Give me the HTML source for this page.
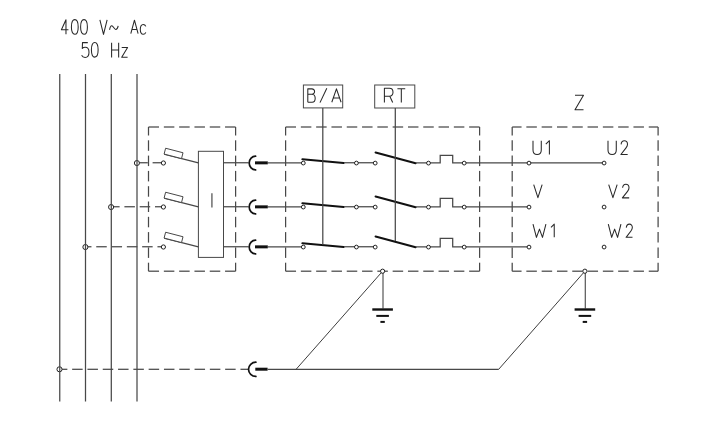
<!DOCTYPE html>
<html><head><meta charset="utf-8"><title>Schema</title>
<style>
html,body{margin:0;padding:0;background:#fff;}
body{width:720px;height:428px;overflow:hidden;font-family:"Liberation Sans",sans-serif;}
svg{position:absolute;left:0;top:0;display:block;}
</style></head><body>
<svg width="720" height="428" viewBox="0 0 720 428">
<rect width="720" height="428" fill="#fff"/>
<path d="M5.2,14.4V0L0,9.8H8" transform="translate(61.4,19.8) scale(0.88,1.01)" fill="none" stroke="#282828" stroke-width="1.05" vector-effect="non-scaling-stroke" stroke-linejoin="round"/>
<path d="M0,7.2C0,2 1.7,0 4,0C6.3,0 8,2 8,7.2C8,12.4 6.3,14.4 4,14.4C1.7,14.4 0,12.4 0,7.2Z" transform="translate(71.4,19.6) scale(0.85,1.02)" fill="none" stroke="#282828" stroke-width="1.05" vector-effect="non-scaling-stroke" stroke-linejoin="round"/>
<path d="M0,7.2C0,2 1.7,0 4,0C6.3,0 8,2 8,7.2C8,12.4 6.3,14.4 4,14.4C1.7,14.4 0,12.4 0,7.2Z" transform="translate(80.6,19.6) scale(0.85,1.02)" fill="none" stroke="#282828" stroke-width="1.05" vector-effect="non-scaling-stroke" stroke-linejoin="round"/>
<path d="M0,0L4.1,14.4L8.2,0" transform="translate(99.9,19.8) scale(0.88,1.01)" fill="none" stroke="#282828" stroke-width="1.05" vector-effect="non-scaling-stroke" stroke-linejoin="round"/>
<path d="M109.6,29.8C110,27.2 110.7,25.7 111.8,25.7C113.2,25.7 114.2,29.4 115.7,29.4C117,29.4 117.8,27.8 118.2,25.8" fill="none" stroke="#282828" stroke-width="1.05"/>
<path d="M0,14.4L4.15,0L8.3,14.4M1.3,9.9H7.0" transform="translate(130.8,20.2) scale(0.88,0.94)" fill="none" stroke="#282828" stroke-width="1.05" vector-effect="non-scaling-stroke" stroke-linejoin="round"/>
<path d="M7,2.9C6.3,0.9 5.1,0 3.7,0C1.3,0 0,3.2 0,7.2C0,11.2 1.3,14.4 3.7,14.4C5.1,14.4 6.3,13.5 7,11.5" transform="translate(140.3,24.4) scale(0.79,0.69)" fill="none" stroke="#282828" stroke-width="1.05" vector-effect="non-scaling-stroke" stroke-linejoin="round"/>
<path d="M87.8,42.6H82.5L82.3,48.4C83,47.6 84,47.2 85.2,47.2C87.6,47.2 89,49.4 89,52.2C89,55.3 87.4,57.4 85.1,57.4C83.5,57.4 82.3,56.6 81.6,55.2" fill="none" stroke="#282828" stroke-width="1.05" stroke-linejoin="round"/>
<path d="M0,7.2C0,2 1.7,0 4,0C6.3,0 8,2 8,7.2C8,12.4 6.3,14.4 4,14.4C1.7,14.4 0,12.4 0,7.2Z" transform="translate(91.4,42.6) scale(0.84,1.01)" fill="none" stroke="#282828" stroke-width="1.05" vector-effect="non-scaling-stroke" stroke-linejoin="round"/>
<path d="M0,0V14.4M8.3,0V14.4M0,7H8.3" transform="translate(111.6,42.8) scale(0.85,1.02)" fill="none" stroke="#282828" stroke-width="1.05" vector-effect="non-scaling-stroke" stroke-linejoin="round"/>
<path d="M0,4.4H6.4L0,14.4H6.4" transform="translate(121.7,43.19) scale(0.92,0.98)" fill="none" stroke="#282828" stroke-width="1.05" vector-effect="non-scaling-stroke" stroke-linejoin="round"/>
<line x1="148.5" y1="127" x2="159.05" y2="127" stroke="#484848" stroke-width="1.25" stroke-linecap="butt"/>
<line x1="163.85" y1="127" x2="174.35" y2="127" stroke="#484848" stroke-width="1.25" stroke-linecap="butt"/>
<line x1="179.15" y1="127" x2="189.65" y2="127" stroke="#484848" stroke-width="1.25" stroke-linecap="butt"/>
<line x1="194.45" y1="127" x2="204.95" y2="127" stroke="#484848" stroke-width="1.25" stroke-linecap="butt"/>
<line x1="209.75" y1="127" x2="220.25" y2="127" stroke="#484848" stroke-width="1.25" stroke-linecap="butt"/>
<line x1="225.05" y1="127" x2="235.6" y2="127" stroke="#484848" stroke-width="1.25" stroke-linecap="butt"/>
<line x1="148.5" y1="271.2" x2="159.05" y2="271.2" stroke="#484848" stroke-width="1.25" stroke-linecap="butt"/>
<line x1="163.85" y1="271.2" x2="174.35" y2="271.2" stroke="#484848" stroke-width="1.25" stroke-linecap="butt"/>
<line x1="179.15" y1="271.2" x2="189.65" y2="271.2" stroke="#484848" stroke-width="1.25" stroke-linecap="butt"/>
<line x1="194.45" y1="271.2" x2="204.95" y2="271.2" stroke="#484848" stroke-width="1.25" stroke-linecap="butt"/>
<line x1="209.75" y1="271.2" x2="220.25" y2="271.2" stroke="#484848" stroke-width="1.25" stroke-linecap="butt"/>
<line x1="225.05" y1="271.2" x2="235.6" y2="271.2" stroke="#484848" stroke-width="1.25" stroke-linecap="butt"/>
<line x1="148.5" y1="127" x2="148.5" y2="135.5" stroke="#484848" stroke-width="1.25" stroke-linecap="butt"/>
<line x1="148.5" y1="140.3" x2="148.5" y2="150.8" stroke="#484848" stroke-width="1.25" stroke-linecap="butt"/>
<line x1="148.5" y1="155.6" x2="148.5" y2="166.1" stroke="#484848" stroke-width="1.25" stroke-linecap="butt"/>
<line x1="148.5" y1="170.9" x2="148.5" y2="181.4" stroke="#484848" stroke-width="1.25" stroke-linecap="butt"/>
<line x1="148.5" y1="186.2" x2="148.5" y2="196.7" stroke="#484848" stroke-width="1.25" stroke-linecap="butt"/>
<line x1="148.5" y1="201.5" x2="148.5" y2="212" stroke="#484848" stroke-width="1.25" stroke-linecap="butt"/>
<line x1="148.5" y1="216.8" x2="148.5" y2="227.3" stroke="#484848" stroke-width="1.25" stroke-linecap="butt"/>
<line x1="148.5" y1="232.1" x2="148.5" y2="242.6" stroke="#484848" stroke-width="1.25" stroke-linecap="butt"/>
<line x1="148.5" y1="247.4" x2="148.5" y2="257.9" stroke="#484848" stroke-width="1.25" stroke-linecap="butt"/>
<line x1="148.5" y1="262.7" x2="148.5" y2="271.2" stroke="#484848" stroke-width="1.25" stroke-linecap="butt"/>
<line x1="235.6" y1="127" x2="235.6" y2="135.5" stroke="#484848" stroke-width="1.25" stroke-linecap="butt"/>
<line x1="235.6" y1="140.3" x2="235.6" y2="150.8" stroke="#484848" stroke-width="1.25" stroke-linecap="butt"/>
<line x1="235.6" y1="155.6" x2="235.6" y2="166.1" stroke="#484848" stroke-width="1.25" stroke-linecap="butt"/>
<line x1="235.6" y1="170.9" x2="235.6" y2="181.4" stroke="#484848" stroke-width="1.25" stroke-linecap="butt"/>
<line x1="235.6" y1="186.2" x2="235.6" y2="196.7" stroke="#484848" stroke-width="1.25" stroke-linecap="butt"/>
<line x1="235.6" y1="201.5" x2="235.6" y2="212" stroke="#484848" stroke-width="1.25" stroke-linecap="butt"/>
<line x1="235.6" y1="216.8" x2="235.6" y2="227.3" stroke="#484848" stroke-width="1.25" stroke-linecap="butt"/>
<line x1="235.6" y1="232.1" x2="235.6" y2="242.6" stroke="#484848" stroke-width="1.25" stroke-linecap="butt"/>
<line x1="235.6" y1="247.4" x2="235.6" y2="257.9" stroke="#484848" stroke-width="1.25" stroke-linecap="butt"/>
<line x1="235.6" y1="262.7" x2="235.6" y2="271.2" stroke="#484848" stroke-width="1.25" stroke-linecap="butt"/>
<line x1="285.6" y1="127" x2="296.05" y2="127" stroke="#484848" stroke-width="1.25" stroke-linecap="butt"/>
<line x1="300.85" y1="127" x2="311.35" y2="127" stroke="#484848" stroke-width="1.25" stroke-linecap="butt"/>
<line x1="316.15" y1="127" x2="326.65" y2="127" stroke="#484848" stroke-width="1.25" stroke-linecap="butt"/>
<line x1="331.45" y1="127" x2="341.95" y2="127" stroke="#484848" stroke-width="1.25" stroke-linecap="butt"/>
<line x1="346.75" y1="127" x2="357.25" y2="127" stroke="#484848" stroke-width="1.25" stroke-linecap="butt"/>
<line x1="362.05" y1="127" x2="372.55" y2="127" stroke="#484848" stroke-width="1.25" stroke-linecap="butt"/>
<line x1="377.35" y1="127" x2="387.85" y2="127" stroke="#484848" stroke-width="1.25" stroke-linecap="butt"/>
<line x1="392.65" y1="127" x2="403.15" y2="127" stroke="#484848" stroke-width="1.25" stroke-linecap="butt"/>
<line x1="407.95" y1="127" x2="418.45" y2="127" stroke="#484848" stroke-width="1.25" stroke-linecap="butt"/>
<line x1="423.25" y1="127" x2="433.75" y2="127" stroke="#484848" stroke-width="1.25" stroke-linecap="butt"/>
<line x1="438.55" y1="127" x2="449.05" y2="127" stroke="#484848" stroke-width="1.25" stroke-linecap="butt"/>
<line x1="453.85" y1="127" x2="464.35" y2="127" stroke="#484848" stroke-width="1.25" stroke-linecap="butt"/>
<line x1="469.15" y1="127" x2="479.6" y2="127" stroke="#484848" stroke-width="1.25" stroke-linecap="butt"/>
<line x1="285.6" y1="271.2" x2="296.05" y2="271.2" stroke="#484848" stroke-width="1.25" stroke-linecap="butt"/>
<line x1="300.85" y1="271.2" x2="311.35" y2="271.2" stroke="#484848" stroke-width="1.25" stroke-linecap="butt"/>
<line x1="316.15" y1="271.2" x2="326.65" y2="271.2" stroke="#484848" stroke-width="1.25" stroke-linecap="butt"/>
<line x1="331.45" y1="271.2" x2="341.95" y2="271.2" stroke="#484848" stroke-width="1.25" stroke-linecap="butt"/>
<line x1="346.75" y1="271.2" x2="357.25" y2="271.2" stroke="#484848" stroke-width="1.25" stroke-linecap="butt"/>
<line x1="362.05" y1="271.2" x2="372.55" y2="271.2" stroke="#484848" stroke-width="1.25" stroke-linecap="butt"/>
<line x1="377.35" y1="271.2" x2="387.85" y2="271.2" stroke="#484848" stroke-width="1.25" stroke-linecap="butt"/>
<line x1="392.65" y1="271.2" x2="403.15" y2="271.2" stroke="#484848" stroke-width="1.25" stroke-linecap="butt"/>
<line x1="407.95" y1="271.2" x2="418.45" y2="271.2" stroke="#484848" stroke-width="1.25" stroke-linecap="butt"/>
<line x1="423.25" y1="271.2" x2="433.75" y2="271.2" stroke="#484848" stroke-width="1.25" stroke-linecap="butt"/>
<line x1="438.55" y1="271.2" x2="449.05" y2="271.2" stroke="#484848" stroke-width="1.25" stroke-linecap="butt"/>
<line x1="453.85" y1="271.2" x2="464.35" y2="271.2" stroke="#484848" stroke-width="1.25" stroke-linecap="butt"/>
<line x1="469.15" y1="271.2" x2="479.6" y2="271.2" stroke="#484848" stroke-width="1.25" stroke-linecap="butt"/>
<line x1="285.6" y1="127" x2="285.6" y2="135.5" stroke="#484848" stroke-width="1.25" stroke-linecap="butt"/>
<line x1="285.6" y1="140.3" x2="285.6" y2="150.8" stroke="#484848" stroke-width="1.25" stroke-linecap="butt"/>
<line x1="285.6" y1="155.6" x2="285.6" y2="166.1" stroke="#484848" stroke-width="1.25" stroke-linecap="butt"/>
<line x1="285.6" y1="170.9" x2="285.6" y2="181.4" stroke="#484848" stroke-width="1.25" stroke-linecap="butt"/>
<line x1="285.6" y1="186.2" x2="285.6" y2="196.7" stroke="#484848" stroke-width="1.25" stroke-linecap="butt"/>
<line x1="285.6" y1="201.5" x2="285.6" y2="212" stroke="#484848" stroke-width="1.25" stroke-linecap="butt"/>
<line x1="285.6" y1="216.8" x2="285.6" y2="227.3" stroke="#484848" stroke-width="1.25" stroke-linecap="butt"/>
<line x1="285.6" y1="232.1" x2="285.6" y2="242.6" stroke="#484848" stroke-width="1.25" stroke-linecap="butt"/>
<line x1="285.6" y1="247.4" x2="285.6" y2="257.9" stroke="#484848" stroke-width="1.25" stroke-linecap="butt"/>
<line x1="285.6" y1="262.7" x2="285.6" y2="271.2" stroke="#484848" stroke-width="1.25" stroke-linecap="butt"/>
<line x1="479.6" y1="127" x2="479.6" y2="135.5" stroke="#484848" stroke-width="1.25" stroke-linecap="butt"/>
<line x1="479.6" y1="140.3" x2="479.6" y2="150.8" stroke="#484848" stroke-width="1.25" stroke-linecap="butt"/>
<line x1="479.6" y1="155.6" x2="479.6" y2="166.1" stroke="#484848" stroke-width="1.25" stroke-linecap="butt"/>
<line x1="479.6" y1="170.9" x2="479.6" y2="181.4" stroke="#484848" stroke-width="1.25" stroke-linecap="butt"/>
<line x1="479.6" y1="186.2" x2="479.6" y2="196.7" stroke="#484848" stroke-width="1.25" stroke-linecap="butt"/>
<line x1="479.6" y1="201.5" x2="479.6" y2="212" stroke="#484848" stroke-width="1.25" stroke-linecap="butt"/>
<line x1="479.6" y1="216.8" x2="479.6" y2="227.3" stroke="#484848" stroke-width="1.25" stroke-linecap="butt"/>
<line x1="479.6" y1="232.1" x2="479.6" y2="242.6" stroke="#484848" stroke-width="1.25" stroke-linecap="butt"/>
<line x1="479.6" y1="247.4" x2="479.6" y2="257.9" stroke="#484848" stroke-width="1.25" stroke-linecap="butt"/>
<line x1="479.6" y1="262.7" x2="479.6" y2="271.2" stroke="#484848" stroke-width="1.25" stroke-linecap="butt"/>
<line x1="512.2" y1="127" x2="521.55" y2="127" stroke="#484848" stroke-width="1.25" stroke-linecap="butt"/>
<line x1="526.35" y1="127" x2="536.85" y2="127" stroke="#484848" stroke-width="1.25" stroke-linecap="butt"/>
<line x1="541.65" y1="127" x2="552.15" y2="127" stroke="#484848" stroke-width="1.25" stroke-linecap="butt"/>
<line x1="556.95" y1="127" x2="567.45" y2="127" stroke="#484848" stroke-width="1.25" stroke-linecap="butt"/>
<line x1="572.25" y1="127" x2="582.75" y2="127" stroke="#484848" stroke-width="1.25" stroke-linecap="butt"/>
<line x1="587.55" y1="127" x2="598.05" y2="127" stroke="#484848" stroke-width="1.25" stroke-linecap="butt"/>
<line x1="602.85" y1="127" x2="613.35" y2="127" stroke="#484848" stroke-width="1.25" stroke-linecap="butt"/>
<line x1="618.15" y1="127" x2="628.65" y2="127" stroke="#484848" stroke-width="1.25" stroke-linecap="butt"/>
<line x1="633.45" y1="127" x2="643.95" y2="127" stroke="#484848" stroke-width="1.25" stroke-linecap="butt"/>
<line x1="648.75" y1="127" x2="658.1" y2="127" stroke="#484848" stroke-width="1.25" stroke-linecap="butt"/>
<line x1="512.2" y1="271.2" x2="521.55" y2="271.2" stroke="#484848" stroke-width="1.25" stroke-linecap="butt"/>
<line x1="526.35" y1="271.2" x2="536.85" y2="271.2" stroke="#484848" stroke-width="1.25" stroke-linecap="butt"/>
<line x1="541.65" y1="271.2" x2="552.15" y2="271.2" stroke="#484848" stroke-width="1.25" stroke-linecap="butt"/>
<line x1="556.95" y1="271.2" x2="567.45" y2="271.2" stroke="#484848" stroke-width="1.25" stroke-linecap="butt"/>
<line x1="572.25" y1="271.2" x2="582.75" y2="271.2" stroke="#484848" stroke-width="1.25" stroke-linecap="butt"/>
<line x1="587.55" y1="271.2" x2="598.05" y2="271.2" stroke="#484848" stroke-width="1.25" stroke-linecap="butt"/>
<line x1="602.85" y1="271.2" x2="613.35" y2="271.2" stroke="#484848" stroke-width="1.25" stroke-linecap="butt"/>
<line x1="618.15" y1="271.2" x2="628.65" y2="271.2" stroke="#484848" stroke-width="1.25" stroke-linecap="butt"/>
<line x1="633.45" y1="271.2" x2="643.95" y2="271.2" stroke="#484848" stroke-width="1.25" stroke-linecap="butt"/>
<line x1="648.75" y1="271.2" x2="658.1" y2="271.2" stroke="#484848" stroke-width="1.25" stroke-linecap="butt"/>
<line x1="512.2" y1="127" x2="512.2" y2="135.5" stroke="#484848" stroke-width="1.25" stroke-linecap="butt"/>
<line x1="512.2" y1="140.3" x2="512.2" y2="150.8" stroke="#484848" stroke-width="1.25" stroke-linecap="butt"/>
<line x1="512.2" y1="155.6" x2="512.2" y2="166.1" stroke="#484848" stroke-width="1.25" stroke-linecap="butt"/>
<line x1="512.2" y1="170.9" x2="512.2" y2="181.4" stroke="#484848" stroke-width="1.25" stroke-linecap="butt"/>
<line x1="512.2" y1="186.2" x2="512.2" y2="196.7" stroke="#484848" stroke-width="1.25" stroke-linecap="butt"/>
<line x1="512.2" y1="201.5" x2="512.2" y2="212" stroke="#484848" stroke-width="1.25" stroke-linecap="butt"/>
<line x1="512.2" y1="216.8" x2="512.2" y2="227.3" stroke="#484848" stroke-width="1.25" stroke-linecap="butt"/>
<line x1="512.2" y1="232.1" x2="512.2" y2="242.6" stroke="#484848" stroke-width="1.25" stroke-linecap="butt"/>
<line x1="512.2" y1="247.4" x2="512.2" y2="257.9" stroke="#484848" stroke-width="1.25" stroke-linecap="butt"/>
<line x1="512.2" y1="262.7" x2="512.2" y2="271.2" stroke="#484848" stroke-width="1.25" stroke-linecap="butt"/>
<line x1="658.1" y1="127" x2="658.1" y2="135.5" stroke="#484848" stroke-width="1.25" stroke-linecap="butt"/>
<line x1="658.1" y1="140.3" x2="658.1" y2="150.8" stroke="#484848" stroke-width="1.25" stroke-linecap="butt"/>
<line x1="658.1" y1="155.6" x2="658.1" y2="166.1" stroke="#484848" stroke-width="1.25" stroke-linecap="butt"/>
<line x1="658.1" y1="170.9" x2="658.1" y2="181.4" stroke="#484848" stroke-width="1.25" stroke-linecap="butt"/>
<line x1="658.1" y1="186.2" x2="658.1" y2="196.7" stroke="#484848" stroke-width="1.25" stroke-linecap="butt"/>
<line x1="658.1" y1="201.5" x2="658.1" y2="212" stroke="#484848" stroke-width="1.25" stroke-linecap="butt"/>
<line x1="658.1" y1="216.8" x2="658.1" y2="227.3" stroke="#484848" stroke-width="1.25" stroke-linecap="butt"/>
<line x1="658.1" y1="232.1" x2="658.1" y2="242.6" stroke="#484848" stroke-width="1.25" stroke-linecap="butt"/>
<line x1="658.1" y1="247.4" x2="658.1" y2="257.9" stroke="#484848" stroke-width="1.25" stroke-linecap="butt"/>
<line x1="658.1" y1="262.7" x2="658.1" y2="271.2" stroke="#484848" stroke-width="1.25" stroke-linecap="butt"/>
<rect x="198.4" y="151.3" width="25.1" height="106.1" fill="none" stroke="#484848" stroke-width="1"/>
<line x1="211.9" y1="193.3" x2="211.9" y2="207.6" stroke="#777" stroke-width="1.6" stroke-linecap="butt"/>
<line x1="137" y1="162.75" x2="147.8" y2="162.75" stroke="#484848" stroke-width="1.25" stroke-linecap="butt"/>
<line x1="152.6" y1="162.75" x2="163.4" y2="162.75" stroke="#484848" stroke-width="1.25" stroke-linecap="butt"/>
<circle cx="136.9" cy="163.05" r="2.55" fill="#fff" stroke="#222" stroke-width="1"/>
<circle cx="163.4" cy="163" r="2.1" fill="#fff" stroke="#222" stroke-width="1"/>
<line x1="198.4" y1="162.95" x2="164.1" y2="154.05" stroke="#484848" stroke-width="1.25" stroke-linecap="butt"/>
<polygon points="164.1,154.05 181.52,158.57 183.03,152.76 165.61,148.24" fill="#fff" stroke="#484848" stroke-width="1"/>
<line x1="223.5" y1="162.75" x2="248.6" y2="162.75" stroke="#484848" stroke-width="1.25" stroke-linecap="butt"/>
<path d="M255.6,156.15A6.4,6.9 0 0 0 255.6,169.95" fill="none" stroke="#111" stroke-width="1.7" stroke-linecap="round"/>
<line x1="255" y1="162.85" x2="267.8" y2="162.85" stroke="#111" stroke-width="3" stroke-linecap="butt"/>
<line x1="267.8" y1="162.75" x2="303.3" y2="162.75" stroke="#484848" stroke-width="1.25" stroke-linecap="butt"/>
<line x1="302.4" y1="159.25" x2="343.6" y2="162.95" stroke="#111" stroke-width="2.1" stroke-linecap="round"/>
<line x1="344" y1="162.75" x2="375.2" y2="162.75" stroke="#484848" stroke-width="1.25" stroke-linecap="butt"/>
<circle cx="303.3" cy="163.05" r="1.9" fill="#fff" stroke="#222" stroke-width="1"/>
<circle cx="356.4" cy="163.05" r="1.9" fill="#fff" stroke="#222" stroke-width="1"/>
<circle cx="375.2" cy="163.1" r="1.9" fill="#fff" stroke="#222" stroke-width="1"/>
<line x1="375.6" y1="152.45" x2="415.6" y2="163.15" stroke="#111" stroke-width="2.1" stroke-linecap="round"/>
<path d="M415.8,162.75H440.2V155.4H452.7V162.75H604.2" fill="none" stroke="#484848" stroke-width="1.25" />
<circle cx="428.5" cy="163.1" r="1.9" fill="#fff" stroke="#222" stroke-width="1"/>
<circle cx="464.2" cy="163.1" r="1.9" fill="#fff" stroke="#222" stroke-width="1"/>
<circle cx="529" cy="163.1" r="1.9" fill="#fff" stroke="#222" stroke-width="1"/>
<circle cx="604.1" cy="163.05" r="1.9" fill="#fff" stroke="#222" stroke-width="1"/>
<line x1="111.2" y1="206.75" x2="119.6" y2="206.75" stroke="#484848" stroke-width="1.25" stroke-linecap="butt"/>
<line x1="124.4" y1="206.75" x2="134.9" y2="206.75" stroke="#484848" stroke-width="1.25" stroke-linecap="butt"/>
<line x1="139.7" y1="206.75" x2="150.2" y2="206.75" stroke="#484848" stroke-width="1.25" stroke-linecap="butt"/>
<line x1="155" y1="206.75" x2="163.4" y2="206.75" stroke="#484848" stroke-width="1.25" stroke-linecap="butt"/>
<circle cx="111.1" cy="207.05" r="2.55" fill="#fff" stroke="#222" stroke-width="1"/>
<circle cx="163.4" cy="207" r="2.1" fill="#fff" stroke="#222" stroke-width="1"/>
<line x1="198.4" y1="206.95" x2="164.1" y2="198.05" stroke="#484848" stroke-width="1.25" stroke-linecap="butt"/>
<polygon points="164.1,198.05 181.52,202.57 183.03,196.76 165.61,192.24" fill="#fff" stroke="#484848" stroke-width="1"/>
<line x1="223.5" y1="206.75" x2="248.6" y2="206.75" stroke="#484848" stroke-width="1.25" stroke-linecap="butt"/>
<path d="M255.6,200.15A6.4,6.9 0 0 0 255.6,213.95" fill="none" stroke="#111" stroke-width="1.7" stroke-linecap="round"/>
<line x1="255" y1="206.85" x2="267.8" y2="206.85" stroke="#111" stroke-width="3" stroke-linecap="butt"/>
<line x1="267.8" y1="206.75" x2="303.3" y2="206.75" stroke="#484848" stroke-width="1.25" stroke-linecap="butt"/>
<line x1="302.4" y1="203.25" x2="343.6" y2="206.95" stroke="#111" stroke-width="2.1" stroke-linecap="round"/>
<line x1="344" y1="206.75" x2="375.2" y2="206.75" stroke="#484848" stroke-width="1.25" stroke-linecap="butt"/>
<circle cx="303.3" cy="207.05" r="1.9" fill="#fff" stroke="#222" stroke-width="1"/>
<circle cx="356.4" cy="207.05" r="1.9" fill="#fff" stroke="#222" stroke-width="1"/>
<circle cx="375.2" cy="207.1" r="1.9" fill="#fff" stroke="#222" stroke-width="1"/>
<line x1="375.6" y1="196.45" x2="415.6" y2="207.15" stroke="#111" stroke-width="2.1" stroke-linecap="round"/>
<path d="M415.8,206.75H440.2V198.3H452.7V206.75H528.8" fill="none" stroke="#484848" stroke-width="1.25" />
<circle cx="428.5" cy="207.1" r="1.9" fill="#fff" stroke="#222" stroke-width="1"/>
<circle cx="464.2" cy="207.1" r="1.9" fill="#fff" stroke="#222" stroke-width="1"/>
<circle cx="529" cy="207.1" r="1.9" fill="#fff" stroke="#222" stroke-width="1"/>
<circle cx="604.1" cy="207.05" r="1.9" fill="#fff" stroke="#222" stroke-width="1"/>
<line x1="85.5" y1="246.75" x2="91.45" y2="246.75" stroke="#484848" stroke-width="1.25" stroke-linecap="butt"/>
<line x1="96.25" y1="246.75" x2="106.75" y2="246.75" stroke="#484848" stroke-width="1.25" stroke-linecap="butt"/>
<line x1="111.55" y1="246.75" x2="122.05" y2="246.75" stroke="#484848" stroke-width="1.25" stroke-linecap="butt"/>
<line x1="126.85" y1="246.75" x2="137.35" y2="246.75" stroke="#484848" stroke-width="1.25" stroke-linecap="butt"/>
<line x1="142.15" y1="246.75" x2="152.65" y2="246.75" stroke="#484848" stroke-width="1.25" stroke-linecap="butt"/>
<line x1="157.45" y1="246.75" x2="163.4" y2="246.75" stroke="#484848" stroke-width="1.25" stroke-linecap="butt"/>
<circle cx="85.4" cy="247.05" r="2.55" fill="#fff" stroke="#222" stroke-width="1"/>
<circle cx="163.4" cy="247" r="2.1" fill="#fff" stroke="#222" stroke-width="1"/>
<line x1="198.4" y1="246.95" x2="164.1" y2="238.05" stroke="#484848" stroke-width="1.25" stroke-linecap="butt"/>
<polygon points="164.1,238.05 181.52,242.57 183.03,236.76 165.61,232.24" fill="#fff" stroke="#484848" stroke-width="1"/>
<line x1="223.5" y1="246.75" x2="248.6" y2="246.75" stroke="#484848" stroke-width="1.25" stroke-linecap="butt"/>
<path d="M255.6,240.15A6.4,6.9 0 0 0 255.6,253.95" fill="none" stroke="#111" stroke-width="1.7" stroke-linecap="round"/>
<line x1="255" y1="246.85" x2="267.8" y2="246.85" stroke="#111" stroke-width="3" stroke-linecap="butt"/>
<line x1="267.8" y1="246.75" x2="303.3" y2="246.75" stroke="#484848" stroke-width="1.25" stroke-linecap="butt"/>
<line x1="302.4" y1="243.25" x2="343.6" y2="246.95" stroke="#111" stroke-width="2.1" stroke-linecap="round"/>
<line x1="344" y1="246.75" x2="375.2" y2="246.75" stroke="#484848" stroke-width="1.25" stroke-linecap="butt"/>
<circle cx="303.3" cy="247.05" r="1.9" fill="#fff" stroke="#222" stroke-width="1"/>
<circle cx="356.4" cy="247.05" r="1.9" fill="#fff" stroke="#222" stroke-width="1"/>
<circle cx="375.2" cy="247.1" r="1.9" fill="#fff" stroke="#222" stroke-width="1"/>
<line x1="375.6" y1="236.45" x2="415.6" y2="247.15" stroke="#111" stroke-width="2.1" stroke-linecap="round"/>
<path d="M415.8,246.75H440.2V238.3H452.7V246.75H528.8" fill="none" stroke="#484848" stroke-width="1.25" />
<circle cx="428.5" cy="247.1" r="1.9" fill="#fff" stroke="#222" stroke-width="1"/>
<circle cx="464.2" cy="247.1" r="1.9" fill="#fff" stroke="#222" stroke-width="1"/>
<circle cx="529" cy="247.1" r="1.9" fill="#fff" stroke="#222" stroke-width="1"/>
<circle cx="604.1" cy="247.05" r="1.9" fill="#fff" stroke="#222" stroke-width="1"/>
<rect x="303.4" y="85.0" width="39.3" height="22.9" fill="none" stroke="#484848" stroke-width="1"/>
<rect x="374.7" y="85.0" width="40.1" height="23.0" fill="none" stroke="#484848" stroke-width="1"/>
<line x1="322.8" y1="107.9" x2="322.8" y2="244.8" stroke="#484848" stroke-width="1.25" stroke-linecap="butt"/>
<line x1="395.3" y1="108" x2="395.3" y2="241" stroke="#484848" stroke-width="1.25" stroke-linecap="butt"/>
<path d="M0,14.4V0H4.6C6.6,0 7.7,1.3 7.7,2.9C7.7,4.5 6.6,5.8 4.6,5.8H0M4.6,5.8C7,5.8 8.4,7.5 8.4,10C8.4,12.7 7,14.4 4.8,14.4H0" transform="translate(307.8,88.85) scale(0.88,0.93)" fill="none" stroke="#282828" stroke-width="1.05" vector-effect="non-scaling-stroke" stroke-linejoin="round"/>
<path d="M0,14.4L6.8,0" transform="translate(320,88.35) scale(1,0.99)" fill="none" stroke="#282828" stroke-width="1.05" vector-effect="non-scaling-stroke" stroke-linejoin="round"/>
<path d="M0,14.4L4.15,0L8.3,14.4M1.3,9.9H7.0" transform="translate(331.8,88.85) scale(1.12,0.93)" fill="none" stroke="#282828" stroke-width="1.05" vector-effect="non-scaling-stroke" stroke-linejoin="round"/>
<path d="M0,14.4V0H5C7.3,0 8.6,1.8 8.6,4C8.6,6.3 7.2,8.1 5,8.1H0M5.4,8.1L8.3,14.4" transform="translate(384.4,88.3) scale(1,0.99)" fill="none" stroke="#282828" stroke-width="1.05" vector-effect="non-scaling-stroke" stroke-linejoin="round"/>
<path d="M0,0H8.8M4.4,0V14.4" transform="translate(397.4,88.8) scale(0.89,0.95)" fill="none" stroke="#282828" stroke-width="1.05" vector-effect="non-scaling-stroke" stroke-linejoin="round"/>
<path d="M0,0H8.5L0,14.4H8.5" transform="translate(575,95.25) scale(1,1.01)" fill="none" stroke="#282828" stroke-width="1.05" vector-effect="non-scaling-stroke" stroke-linejoin="round"/>
<path d="M0,0V9.6C0,12.6 2,14.4 4.65,14.4C7.3,14.4 9.3,12.6 9.3,9.6V0" transform="translate(533,140.7) scale(0.89,0.96)" fill="none" stroke="#282828" stroke-width="1.05" vector-effect="non-scaling-stroke" stroke-linejoin="round"/>
<path d="M0,3.5L3.6,0V14.4" transform="translate(545.8,140.7) scale(1,0.96)" fill="none" stroke="#282828" stroke-width="1.05" vector-effect="non-scaling-stroke" stroke-linejoin="round"/>
<path d="M0,0V9.6C0,12.6 2,14.4 4.65,14.4C7.3,14.4 9.3,12.6 9.3,9.6V0" transform="translate(608,140.7) scale(0.89,0.96)" fill="none" stroke="#282828" stroke-width="1.05" vector-effect="non-scaling-stroke" stroke-linejoin="round"/>
<path d="M0.2,3.8C0.5,1.5 2,0 4,0C6.1,0 7.6,1.5 7.6,3.7C7.6,5.3 6.9,6.3 5.9,7.5L0,14.4H7.8" transform="translate(620.9,140.7) scale(0.87,0.96)" fill="none" stroke="#282828" stroke-width="1.05" vector-effect="non-scaling-stroke" stroke-linejoin="round"/>
<path d="M0,0L4.1,14.4L8.2,0" transform="translate(533.7,184.6) scale(1.03,0.91)" fill="none" stroke="#282828" stroke-width="1.05" vector-effect="non-scaling-stroke" stroke-linejoin="round"/>
<path d="M0,0L4.1,14.4L8.2,0" transform="translate(608.7,184.6) scale(1.03,0.91)" fill="none" stroke="#282828" stroke-width="1.05" vector-effect="non-scaling-stroke" stroke-linejoin="round"/>
<path d="M0.2,3.8C0.5,1.5 2,0 4,0C6.1,0 7.6,1.5 7.6,3.7C7.6,5.3 6.9,6.3 5.9,7.5L0,14.4H7.8" transform="translate(622.4,184.2) scale(0.87,0.95)" fill="none" stroke="#282828" stroke-width="1.05" vector-effect="non-scaling-stroke" stroke-linejoin="round"/>
<path d="M0,0L3.7,14.4L6.95,5.5L10.2,14.4L13.9,0" transform="translate(533,224.1) scale(0.93,0.92)" fill="none" stroke="#282828" stroke-width="1.05" vector-effect="non-scaling-stroke" stroke-linejoin="round"/>
<path d="M0,3.5L3.6,0V14.4" transform="translate(551,224.1) scale(0.9,0.92)" fill="none" stroke="#282828" stroke-width="1.05" vector-effect="non-scaling-stroke" stroke-linejoin="round"/>
<path d="M0,0L3.7,14.4L6.95,5.5L10.2,14.4L13.9,0" transform="translate(608.3,224.1) scale(0.91,0.92)" fill="none" stroke="#282828" stroke-width="1.05" vector-effect="non-scaling-stroke" stroke-linejoin="round"/>
<path d="M0.2,3.8C0.5,1.5 2,0 4,0C6.1,0 7.6,1.5 7.6,3.7C7.6,5.3 6.9,6.3 5.9,7.5L0,14.4H7.8" transform="translate(626.1,224.1) scale(0.82,0.92)" fill="none" stroke="#282828" stroke-width="1.05" vector-effect="non-scaling-stroke" stroke-linejoin="round"/>
<line x1="383" y1="271.2" x2="383" y2="308.5" stroke="#555" stroke-width="1.2" stroke-linecap="butt"/>
<line x1="372.3" y1="309.5" x2="392.9" y2="309.5" stroke="#111" stroke-width="2.4" stroke-linecap="butt"/>
<line x1="376.3" y1="315.9" x2="388.9" y2="315.9" stroke="#111" stroke-width="2" stroke-linecap="butt"/>
<line x1="380.4" y1="321.9" x2="384.8" y2="321.9" stroke="#111" stroke-width="2" stroke-linecap="butt"/>
<line x1="585.3" y1="271.2" x2="585.3" y2="308.5" stroke="#555" stroke-width="1.2" stroke-linecap="butt"/>
<line x1="574.6" y1="309.5" x2="595.2" y2="309.5" stroke="#111" stroke-width="2.4" stroke-linecap="butt"/>
<line x1="578.6" y1="315.9" x2="591.2" y2="315.9" stroke="#111" stroke-width="2" stroke-linecap="butt"/>
<line x1="582.7" y1="321.9" x2="587.1" y2="321.9" stroke="#111" stroke-width="2" stroke-linecap="butt"/>
<line x1="59.4" y1="369.3" x2="67.35" y2="369.3" stroke="#484848" stroke-width="1.25" stroke-linecap="butt"/>
<line x1="72.15" y1="369.3" x2="82.65" y2="369.3" stroke="#484848" stroke-width="1.25" stroke-linecap="butt"/>
<line x1="87.45" y1="369.3" x2="97.95" y2="369.3" stroke="#484848" stroke-width="1.25" stroke-linecap="butt"/>
<line x1="102.75" y1="369.3" x2="113.25" y2="369.3" stroke="#484848" stroke-width="1.25" stroke-linecap="butt"/>
<line x1="118.05" y1="369.3" x2="128.55" y2="369.3" stroke="#484848" stroke-width="1.25" stroke-linecap="butt"/>
<line x1="133.35" y1="369.3" x2="143.85" y2="369.3" stroke="#484848" stroke-width="1.25" stroke-linecap="butt"/>
<line x1="148.65" y1="369.3" x2="159.15" y2="369.3" stroke="#484848" stroke-width="1.25" stroke-linecap="butt"/>
<line x1="163.95" y1="369.3" x2="174.45" y2="369.3" stroke="#484848" stroke-width="1.25" stroke-linecap="butt"/>
<line x1="179.25" y1="369.3" x2="189.75" y2="369.3" stroke="#484848" stroke-width="1.25" stroke-linecap="butt"/>
<line x1="194.55" y1="369.3" x2="205.05" y2="369.3" stroke="#484848" stroke-width="1.25" stroke-linecap="butt"/>
<line x1="209.85" y1="369.3" x2="220.35" y2="369.3" stroke="#484848" stroke-width="1.25" stroke-linecap="butt"/>
<line x1="225.15" y1="369.3" x2="235.65" y2="369.3" stroke="#484848" stroke-width="1.25" stroke-linecap="butt"/>
<line x1="240.45" y1="369.3" x2="248.4" y2="369.3" stroke="#484848" stroke-width="1.25" stroke-linecap="butt"/>
<circle cx="59.5" cy="369.3" r="2.55" fill="#fff" stroke="#222" stroke-width="1"/>
<path d="M255.9,362.2A7.4,7.1 0 0 0 255.9,376.4" fill="none" stroke="#111" stroke-width="1.7" stroke-linecap="round"/>
<line x1="255.3" y1="369.2" x2="267.6" y2="369.2" stroke="#111" stroke-width="3" stroke-linecap="butt"/>
<line x1="267.6" y1="369.3" x2="498.7" y2="369.3" stroke="#484848" stroke-width="1.25" stroke-linecap="butt"/>
<line x1="382.6" y1="271.2" x2="296.1" y2="369.3" stroke="#333" stroke-width="0.95" stroke-linecap="butt"/>
<line x1="584.9" y1="271.2" x2="498.7" y2="369.3" stroke="#333" stroke-width="0.95" stroke-linecap="butt"/>
<circle cx="382.6" cy="271.2" r="2.1" fill="#fff" stroke="#222" stroke-width="1"/>
<circle cx="584.9" cy="271.2" r="2.1" fill="#fff" stroke="#222" stroke-width="1"/>
<line x1="59.75" y1="74.1" x2="59.75" y2="401.6" stroke="#484848" stroke-width="1.25" stroke-linecap="butt"/>
<line x1="85.5" y1="74.1" x2="85.5" y2="401.6" stroke="#484848" stroke-width="1.25" stroke-linecap="butt"/>
<line x1="111.3" y1="74.1" x2="111.3" y2="401.6" stroke="#484848" stroke-width="1.25" stroke-linecap="butt"/>
<line x1="137" y1="74.1" x2="137" y2="401.6" stroke="#484848" stroke-width="1.25" stroke-linecap="butt"/>
</svg>
</body></html>
